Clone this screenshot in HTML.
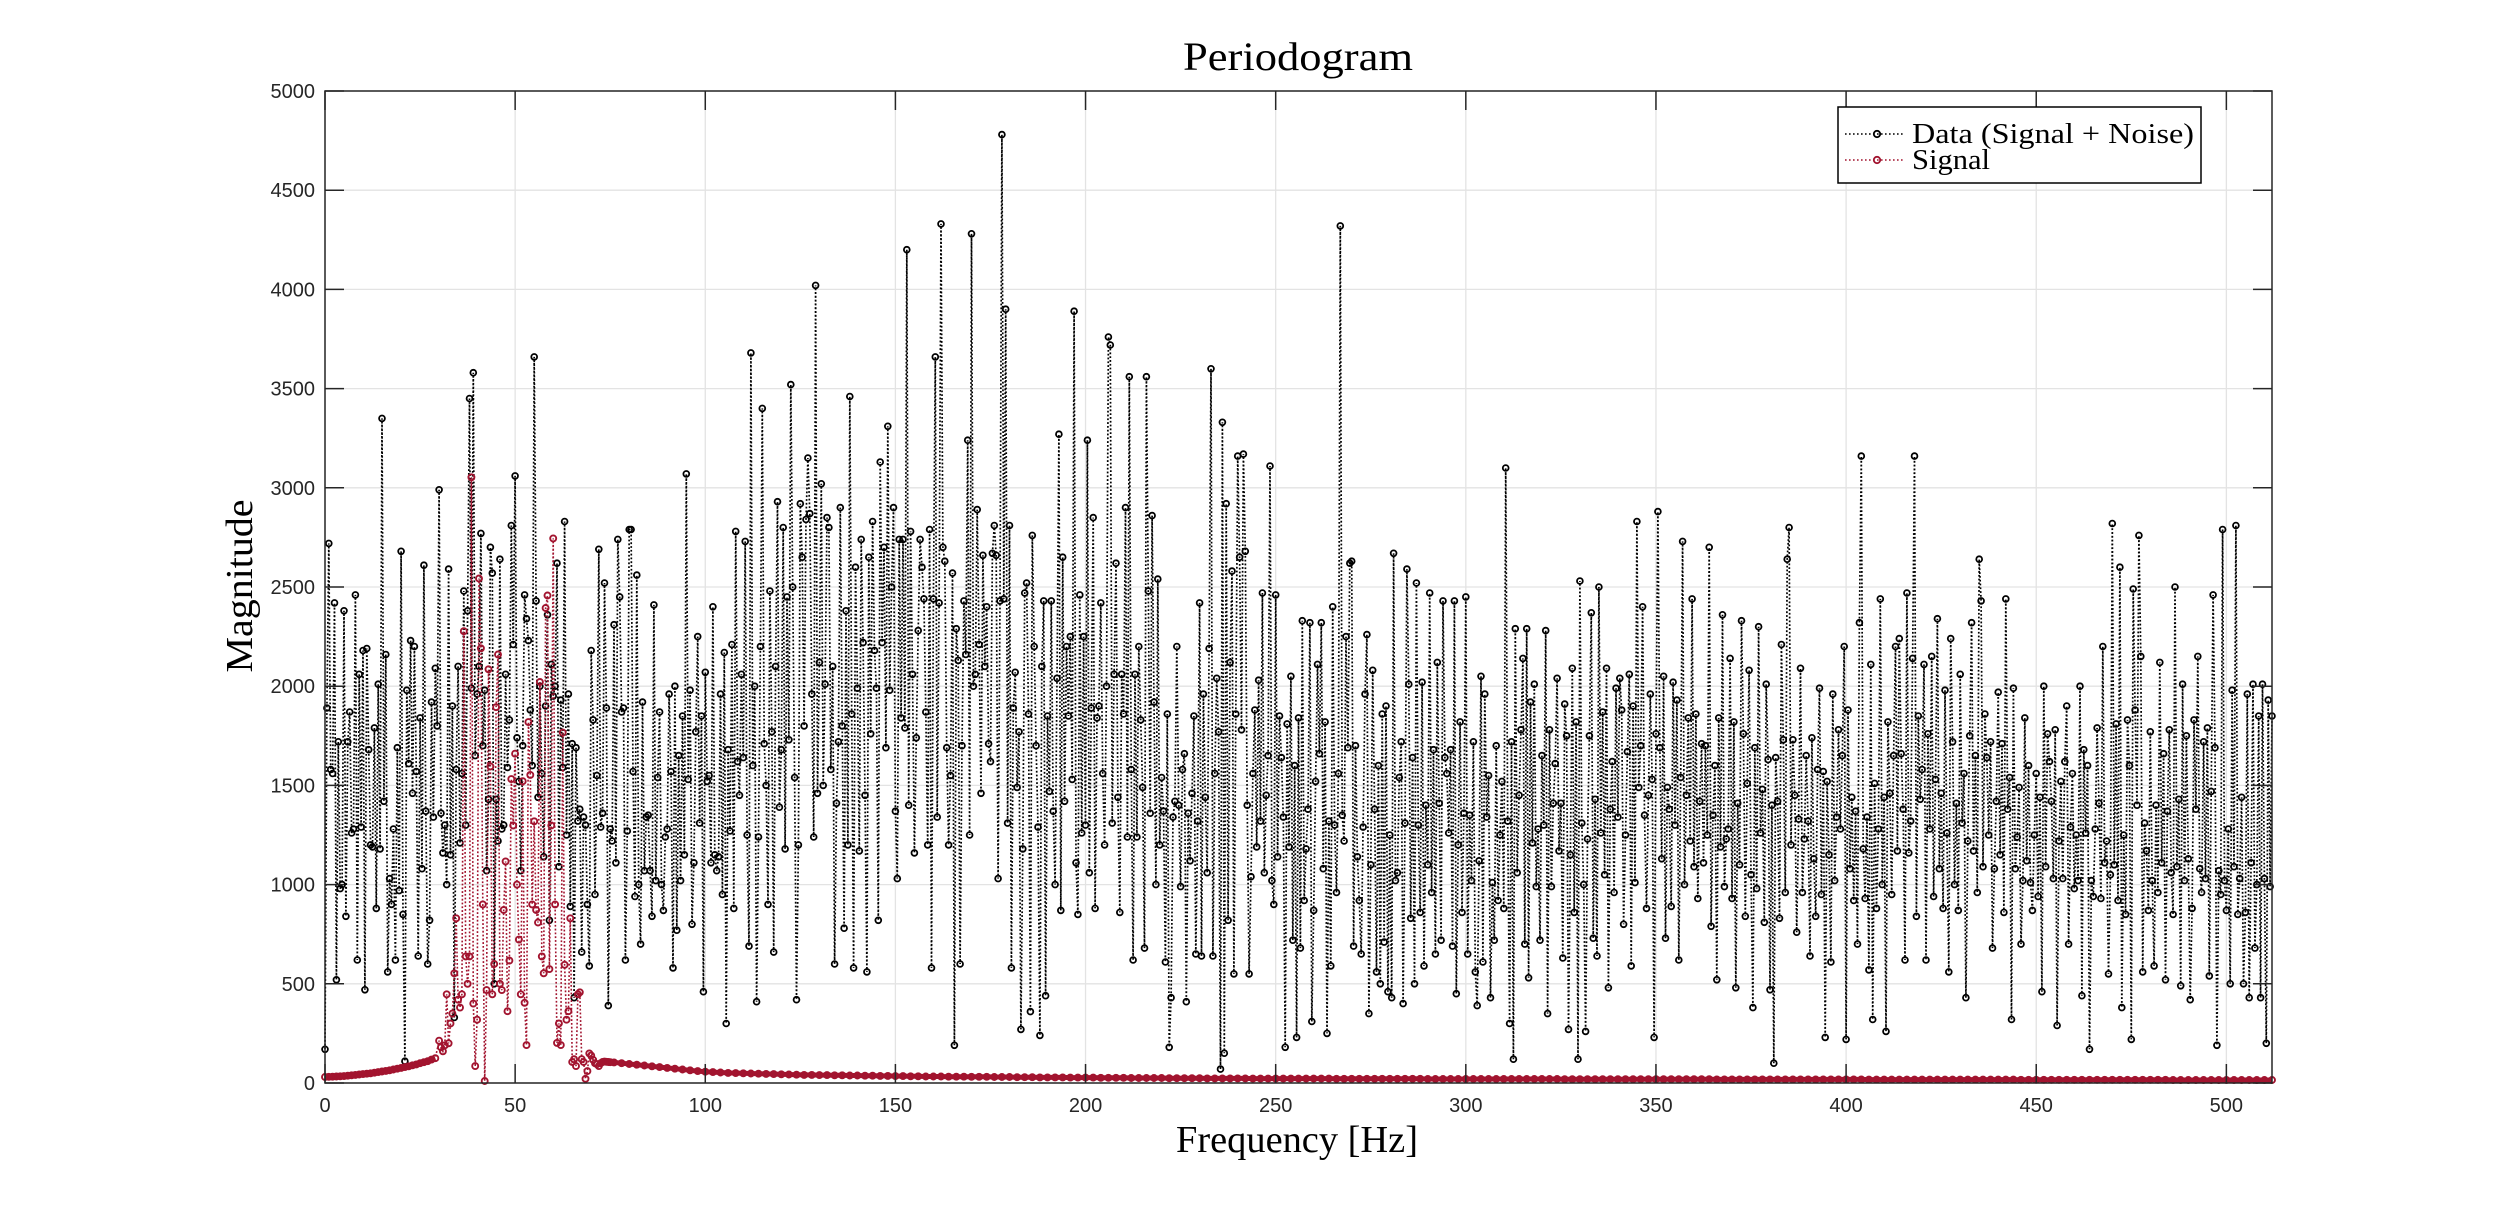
<!DOCTYPE html>
<html><head><meta charset="utf-8"><title>Periodogram</title>
<style>html,body{margin:0;padding:0;background:#fff}svg{display:block}</style></head>
<body>
<svg id="chart" width="2500" height="1211" viewBox="0 0 2500 1211" xmlns="http://www.w3.org/2000/svg">
<defs><clipPath id="plotclip"><rect x="318" y="84" width="1961" height="1006"/></clipPath></defs>
<rect x="0" y="0" width="2500" height="1211" fill="#fff"/>
<rect x="325" y="91" width="1947" height="992" fill="#fff"/>
<g id="grid"></g>
<g id="series" clip-path="url(#plotclip)"></g>
<g id="axes"></g>
<text x="1298" y="70" font-family="Liberation Serif, serif" font-size="40" text-anchor="middle" textLength="230" lengthAdjust="spacingAndGlyphs" fill="#000">Periodogram</text>
<text x="1297" y="1152" font-family="Liberation Serif, serif" font-size="38" text-anchor="middle" textLength="242" lengthAdjust="spacingAndGlyphs" fill="#000">Frequency [Hz]</text>
<text transform="translate(252,586) rotate(-90)" x="0" y="0" font-family="Liberation Serif, serif" font-size="38" text-anchor="middle" textLength="173" lengthAdjust="spacingAndGlyphs" fill="#000">Magnitude</text>
<g id="legend">
  <rect x="1838" y="107" width="363" height="76" fill="#fff" stroke="#000" stroke-width="1.5"/>
  <g>
    <line x1="1845" y1="134" x2="1905" y2="134" stroke="#000" stroke-width="1.6" stroke-dasharray="1.6 2.4"/>
    <circle cx="1877" cy="134" r="3.2" fill="none" stroke="#000" stroke-width="1.8"/>
    <text x="1912" y="143" font-family="Liberation Serif, serif" font-size="28" textLength="282" lengthAdjust="spacingAndGlyphs" fill="#000">Data (Signal + Noise)</text>
  </g>
  <g>
    <line x1="1845" y1="160" x2="1905" y2="160" stroke="#A2142F" stroke-width="1.6" stroke-dasharray="1.6 2.4"/>
    <circle cx="1877" cy="160" r="3.2" fill="none" stroke="#A2142F" stroke-width="1.8"/>
    <text x="1912" y="169" font-family="Liberation Serif, serif" font-size="28" textLength="78" lengthAdjust="spacingAndGlyphs" fill="#000">Signal</text>
  </g>
</g>
</svg>
<script>
// ---- chart data ----
const xTicks = [0,50,100,150,200,250,300,350,400,450,500];
const yTicks = [0,500,1000,1500,2000,2500,3000,3500,4000,4500,5000];
const dataStepHz = 0.5;
const dataValues = [
170,1890,2720,1580,1560,2420,520,1720,980,1000,2380,840,1720,1870,1260,1280,2460,620,2060,1290,
2180,470,2190,1680,1200,1190,1790,880,2010,1180,3350,1420,2160,560,1030,900,1280,620,1690,970,
2680,850,110,1980,1610,2230,1460,2200,1570,640,1840,1080,2610,1370,600,820,1920,1340,2090,1800,
2990,1360,1160,1300,1000,2590,1150,1900,330,1580,2100,1210,1560,2480,1300,2380,3450,1990,3580,1650,
1960,2100,2770,1700,1980,1070,1430,2700,2570,500,1430,1220,2640,1280,1300,2060,1590,1830,2810,2210,
3060,1740,1520,1070,1700,2460,2340,2230,1880,1600,3660,2430,1440,2000,1560,1140,1900,2360,820,2110,
1950,2000,2620,1090,1930,1590,2830,1250,1960,890,1710,430,1690,1320,1380,660,1340,1300,900,590,
2180,1830,950,1550,2690,1290,1360,2520,1890,390,1280,1220,2310,1110,2740,2450,1870,1890,620,1270,
2790,2790,1570,940,2560,1000,700,1920,1070,1340,1350,1070,840,2410,1020,1540,1870,1000,870,1240,
1280,1960,1570,580,2000,770,1650,1020,1850,1150,3070,1530,1980,800,1110,1770,2250,1310,1850,460,
2070,1520,1550,1110,2400,1150,1070,1140,1960,950,2170,300,1680,1270,2210,880,2780,1620,1450,2060,
1640,2730,1250,690,3680,1600,2000,410,1240,2200,3400,1710,1500,900,2480,1770,660,2100,2930,1390,
1680,2800,1180,2450,1730,3520,2500,1540,420,1200,2920,2650,1800,2840,3150,2870,1960,1240,4020,1460,
2120,3020,1500,2010,2850,2800,1580,2100,600,1410,1720,2900,1800,780,2380,1200,3460,1860,580,2600,
1990,1170,2740,2220,1450,560,2650,1760,2830,2180,1990,820,3130,2220,2700,1690,3310,1980,2500,2900,
1370,1030,2740,1840,2740,1790,4200,1400,2780,2060,1160,1740,2280,2740,2600,2440,1870,1200,2790,580,
2440,3660,1340,2420,4330,2700,2630,1690,1200,1550,2570,190,2290,2130,600,1700,2430,2160,3240,1250,
4280,2000,2060,2890,2210,1460,2660,2100,2400,1710,1620,2670,2810,2660,1030,2430,4780,2440,3900,1310,
2810,580,1890,2070,1490,1770,270,1180,2470,2520,1860,360,2760,2200,1700,1290,240,2100,2430,440,
1850,1470,2430,1370,1000,2040,3270,870,2650,1420,2200,1850,2250,1530,3890,1110,850,2460,1260,2250,
1300,3240,1060,1890,2850,880,1840,1900,2420,1560,1200,2000,3760,3720,1310,2060,2620,1440,860,2060,
1860,2900,1240,3560,1580,620,2060,1240,2200,1830,1490,680,3560,2480,1360,2860,1920,1000,2540,1200,
1540,1370,610,1860,180,430,1340,1420,2200,1400,990,1580,1660,410,1360,1120,1460,1850,650,1320,
2420,640,1960,1440,1060,2190,3600,640,1560,2040,1770,70,3330,150,2920,820,2120,2580,550,1860,
3160,2650,1780,3170,2680,1400,550,1040,1560,1880,1190,2030,1320,2470,1060,1450,1650,3110,1020,900,
2460,1140,1850,1640,1340,180,1810,1190,2050,720,1600,230,1840,680,2330,920,1180,1380,2320,310,
870,1520,2110,1660,2320,1080,1820,250,1320,590,2400,1300,960,1560,4320,1350,1220,2250,1690,2620,
2630,690,1700,1140,920,650,1290,1960,2260,350,1100,2080,1380,560,1600,500,1860,710,1900,460,
1250,430,2670,1020,1060,1540,1720,400,1310,2590,2010,830,1640,500,2520,1300,860,2020,590,1400,
1100,2470,960,1680,650,2120,1410,720,2430,1640,1560,1260,1680,690,2430,450,1200,1820,860,1360,
2450,650,1350,1020,1720,560,390,1120,2050,610,1960,1340,1550,430,1010,720,1700,920,1250,1520,
880,3100,1320,300,1720,120,2290,1060,1450,1780,2140,700,2290,530,1920,1210,2010,990,1280,720,
1650,1300,2280,350,1780,990,1410,1610,2040,1170,1410,630,1910,1750,270,1150,2090,860,1820,120,
2530,1310,1000,260,1230,1750,2370,730,1430,640,2500,1260,1870,1050,2090,480,1380,1620,960,1990,
1340,2040,1880,800,1250,1670,2060,590,1900,1010,2830,1490,1700,2400,1350,880,1450,1960,1530,230,
1760,2880,1690,1130,2050,730,1490,1380,890,2020,1300,1930,620,1540,2730,1000,1450,1840,1220,2440,
1090,1860,930,1420,1710,1110,1700,1250,2700,790,1350,1600,520,1840,1190,2360,990,1230,1280,2140,
930,1820,480,1410,1100,2330,1760,840,1510,2080,1050,380,1690,980,2300,1260,1480,810,2010,1630,
470,1400,100,1640,1420,830,2210,1730,960,2640,2800,1200,1730,1450,760,1330,2090,960,1230,1650,
1320,640,1740,1130,840,1580,1990,950,1570,230,1520,1150,610,1960,1020,1340,1780,1280,1650,2200,
220,1880,1080,1440,920,1370,700,2320,3160,1180,930,1340,570,2110,320,1510,880,1280,2440,1000,
1440,260,1820,1460,950,1650,2200,1170,2240,1660,1380,620,2470,1160,1320,2140,3160,840,1850,1430,
1580,2110,620,1760,1280,2150,940,1530,2340,1080,1460,880,1980,1260,560,2240,1720,1000,1410,870,
2060,1310,1560,430,1220,1750,2320,1170,1650,960,2640,2430,1090,1860,1640,1250,1720,680,1080,1420,
1970,1150,1710,860,2440,1380,1540,320,1990,1080,1240,1490,700,1020,1840,1120,1600,1010,870,1250,
1560,940,1440,460,2000,1090,1760,1620,1420,1030,1780,290,1220,1520,1030,1620,1900,700,1290,1560,
980,1250,1020,2000,440,1680,1260,1600,170,1020,940,1280,1790,1410,930,2200,1110,1220,550,1050,
2820,1100,1810,920,2600,380,1250,850,1830,1600,220,2490,1880,1400,2760,2150,560,1310,1170,870,
1770,1020,590,1400,960,2120,1110,1660,520,1370,1780,1060,850,2500,1090,1430,490,2010,1020,1750,
1130,420,880,1830,1380,2150,1080,960,1720,1030,1790,540,1470,2460,1690,190,1070,950,2790,1020,
870,1280,500,1980,1090,2810,850,1030,1440,500,860,1960,430,1110,2010,680,1000,1850,430,2010,
1030,200,1930,990,1850
];
const sigLowStepHz = 1;
const sigLowValues = [30,31,32,33,34,35,37,39,41,43,45,47,49,52,55,58,61,64,68,72,76,80,84,89,94,100,105,110,118,125];
const sigMidStartHz = 30, sigMidStepHz = 0.5;
const sigMidValues = [
213,180,160,190,447,200,300,350,553,830,420,380,447,2277,638,500,638,3053,400,85,
319,2543,2191,900,10,468,2085,1596,447,600,1894,2160,500,468,872,1117,362,617,1532,1298,
1660,1000,723,447,1521,404,191,1819,1553,900,1319,872,809,2021,638,553,2394,2457,574,1298,
2745,900,202,300,191,1766,596,319,362,830,106,120,85,447,457,120,106,21,60,149,
138,117,100,95,85,100,106,108,107,106,105
];
const sigTailStartHz = 76, sigTailStepHz = 2;
const sigTailValues = [
104,100,96,92,88,84,80,76,72,68,64,60,
57,55,53,51,50,49,48,47,46,45,44,43,42,
41,41,40,40,39,39,38,38,37,37,
36,36,35,35,34,34,33,33,33,32,
32,32,31,31,31,30,30,30,29,29,
29,28,28,28,28,27,27,27,27,26,
26,26,26,25,25,25,25,25,24,24,
24,24,24,23,23,23,23,23,23,22,
22,22,22,22,22,22,22,22,22,22,
21,21,21,21,21,21,21,21,21,21,
21,21,20,20,20,20,20,20,20,20,
20,20,20,20,20,20,20,20,20,20,
19,19,19,19,19,19,19,19,19,19,
19,19,19,19,19,19,19,19,19,19,
18,18,18,18,18,18,18,18,18,18,
18,18,18,18,18,18,18,18,18,18,
17,17,17,17,17,17,17,17,17,17,
17,17,17,17,17,17,17,17,17,17,
16,16,16,16,16,16,16,16,16,16,
16,16,16,16,16,16,16,16,16,16,
15,15,15,15,15,15,15,15,15,15,
15,15,15,15
];

// ---- scales ----
const PL=325, PR=2272, PT=91, PB=1083, XMAX=512, YMAX=5000;
const xs = f => PL + f / XMAX * (PR - PL);
const ys = v => PB - v / YMAX * (PB - PT);
const NS = 'http://www.w3.org/2000/svg';
function mk(tag, attrs, parent){ const e=document.createElementNS(NS,tag); for(const k in attrs) e.setAttribute(k,attrs[k]); parent.appendChild(e); return e; }
const ptsStr = pts => pts.map(p=>p[0].toFixed(1)+','+p[1].toFixed(1)).join(' ');

const grid = document.getElementById('grid');
const axes = document.getElementById('axes');
const series = document.getElementById('series');

xTicks.forEach(t => {
  const l = mk('line',{x1:xs(t),x2:xs(t),y1:PT,y2:PB,stroke:'#e3e3e3','stroke-width':1.3},grid);
  
  
});
yTicks.forEach(t => {
  const l = mk('line',{x1:PL,x2:PR,y1:ys(t),y2:ys(t),stroke:'#e3e3e3','stroke-width':1.3},grid);
  
  
});

// data series
const dataPts = dataValues.map((v,i)=>[xs(i*dataStepHz), ys(v)]);
const dl = mk('polyline',{points:ptsStr(dataPts),fill:'none',stroke:'#000','stroke-width':1.7,'stroke-dasharray':'1.8 2'},series);


const dm = mk('g',{fill:'none',stroke:'#000','stroke-width':1.8},series);


dataPts.forEach(p=>{
  const c=mk('circle',{cx:p[0].toFixed(1),cy:p[1].toFixed(1),r:2.9},dm);
  
  
});

// signal series
const lowPts = sigLowValues.map((v,i)=>[xs(i*sigLowStepHz), ys(v)]);
const midPts = sigMidValues.map((v,i)=>[xs(sigMidStartHz+i*sigMidStepHz), ys(v)]);
const tailPts = sigTailValues.map((v,i)=>[xs(sigTailStartHz+i*sigTailStepHz), ys(v)]);
const sigPts = lowPts.concat(midPts, tailPts);
const sl = mk('polyline',{points:ptsStr(sigPts),fill:'none',stroke:'#A2142F','stroke-width':1.6,'stroke-dasharray':'1.8 2'},series);


const sb1 = mk('polyline',{points:ptsStr(lowPts),fill:'none',stroke:'#A2142F','stroke-width':5,'stroke-linejoin':'round'},series);


const sb2 = mk('polyline',{points:ptsStr(midPts.slice(-6).concat(tailPts)),fill:'none',stroke:'#A2142F','stroke-width':5,'stroke-linejoin':'round'},series);


const sm = mk('g',{fill:'none',stroke:'#A2142F','stroke-width':1.9},series);


sigPts.forEach(p=>{
  const c=mk('circle',{cx:p[0].toFixed(1),cy:p[1].toFixed(1),r:3},sm);
  
  
});

// axes
const box = mk('rect',{x:PL,y:PT,width:PR-PL,height:PB-PT,fill:'none',stroke:'#262626','stroke-width':1.5},axes);


const TL = 19;
xTicks.forEach(t=>{
  const x=xs(t);
  const a=mk('line',{x1:x,x2:x,y1:PB,y2:PB-TL,stroke:'#262626','stroke-width':1.5},axes);
  
  
  const b=mk('line',{x1:x,x2:x,y1:PT,y2:PT+TL,stroke:'#262626','stroke-width':1.5},axes);
  
  
  const tx=mk('text',{x:x,y:PB+29,'text-anchor':'middle','font-family':'Liberation Sans, sans-serif','font-size':20,fill:'#262626'},axes);
  tx.textContent=String(t);
  
  
});
yTicks.forEach(t=>{
  const y=ys(t);
  const a=mk('line',{x1:PL,x2:PL+TL,y1:y,y2:y,stroke:'#262626','stroke-width':1.5},axes);
  
  
  const b=mk('line',{x1:PR,x2:PR-TL,y1:y,y2:y,stroke:'#262626','stroke-width':1.5},axes);
  
  
  const tx=mk('text',{x:PL-10,y:y+7,'text-anchor':'end','font-family':'Liberation Sans, sans-serif','font-size':20,fill:'#262626'},axes);
  tx.textContent=String(t);
  
  
});
</script>
</body></html>
